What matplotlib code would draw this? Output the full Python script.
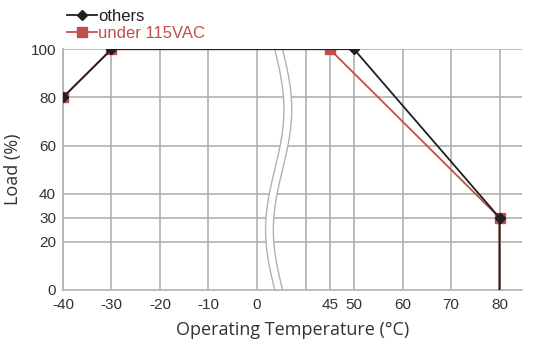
import numpy as np
import matplotlib.pyplot as plt
from matplotlib.patches import Polygon

# derating curves (temperature in C, load in %)
temp_others = [-40, -30, 50, 80, 80]
load_others = [80, 100, 100, 30, 0]
temp_115 = [-40, -30, 45, 80, 80]
load_115 = [80, 100, 100, 30, 0]

xticks = [-40, -30, -20, -10, 0, 45, 50, 60, 70, 80]
xgrid = [-40, -30, -20, -10, 0, 40, 45, 50, 60, 70, 80]
yticks = [0, 20, 30, 40, 60, 80, 100]

black = "#231f20"
red = "#c0504d"
grid = "#b0b0b0"


# axis is broken between 0 and 40 C
def fwd(x):
    x = np.asarray(x, dtype=float)
    return np.where(x <= 0, x, np.where(x >= 40, x - 30, x / 4))


def inv(p):
    p = np.asarray(p, dtype=float)
    return np.where(p <= 0, p, np.where(p >= 10, p + 30, p * 4))


plt.rcParams["font.family"] = ["Liberation Sans", "DejaVu Sans"]
fig = plt.figure(figsize=(5.43, 3.44), dpi=100)
ax = fig.add_axes([0.116, 0.157, 0.845, 0.70])
ax.set_xscale("function", functions=(fwd, inv))
ax.set_xlim(-40, 84.6)
ax.set_ylim(0, 100)

for g in xgrid:
    ax.plot([g, g], [0, 100], color=grid, lw=1.2, zorder=1)
for g in yticks[1:]:
    ax.axhline(g, color=grid, lw=1.2, zorder=1)

# break symbol: S-shaped white band between two gray curves (axes coords)
yy = np.linspace(0, 1, 80)
cx = 0.47 - 0.02 * np.sin(2 * np.pi * yy)
w = 0.017
poly = np.column_stack([np.r_[cx - w / 2, (cx + w / 2)[::-1]], np.r_[yy, yy[::-1]]])
ax.add_patch(Polygon(poly, closed=True, transform=ax.transAxes, facecolor="white",
                     edgecolor="none", zorder=2))
ax.plot(cx - w / 2, yy, color=grid, lw=1, transform=ax.transAxes, zorder=2)
ax.plot(cx + w / 2, yy, color=grid, lw=1, transform=ax.transAxes, zorder=2)

ax.plot(temp_others, load_others, color=black, lw=1.3, marker="D", ms=5,
        markevery=[0, 1, 2, 3], label="others", zorder=4)
ax.plot(temp_115, load_115, color=red, lw=1.3, marker="s", ms=7,
        markevery=[0, 1, 2, 3], label="under 115VAC", zorder=3)
ax.plot([-40, -30, 80], [80, 100, 30], color=black, marker="D", ms=5, lw=0, zorder=5)

ax.set_xticks(xticks)
ax.set_xticklabels([str(t) for t in xticks])
ax.set_yticks(yticks)
ax.tick_params(axis="x", length=0, labelsize=11, colors="#333333", pad=6)
ax.tick_params(axis="y", length=0, labelsize=11, colors="#333333", pad=5)
for s in ["top", "right"]:
    ax.spines[s].set_visible(False)
for s in ["left", "bottom"]:
    ax.spines[s].set_color(grid)
    ax.spines[s].set_linewidth(1.2)

ax.set_xlabel("Operating Temperature (°C)", fontsize=13, color="#333333",
              family=["Open Sans", "DejaVu Sans"], labelpad=6)
ax.set_ylabel("Load (%)", fontsize=13, color="#333333",
              family=["Open Sans", "DejaVu Sans"], labelpad=6)

leg = ax.legend(loc="lower left", bbox_to_anchor=(-0.01, 1.0), frameon=False,
                fontsize=12, handlelength=1.8, handletextpad=0.1,
                labelspacing=0.1, borderpad=0)
for txt, c in zip(leg.get_texts(), [black, red]):
    txt.set_color(c)

fig.savefig("out.png", dpi=100)
